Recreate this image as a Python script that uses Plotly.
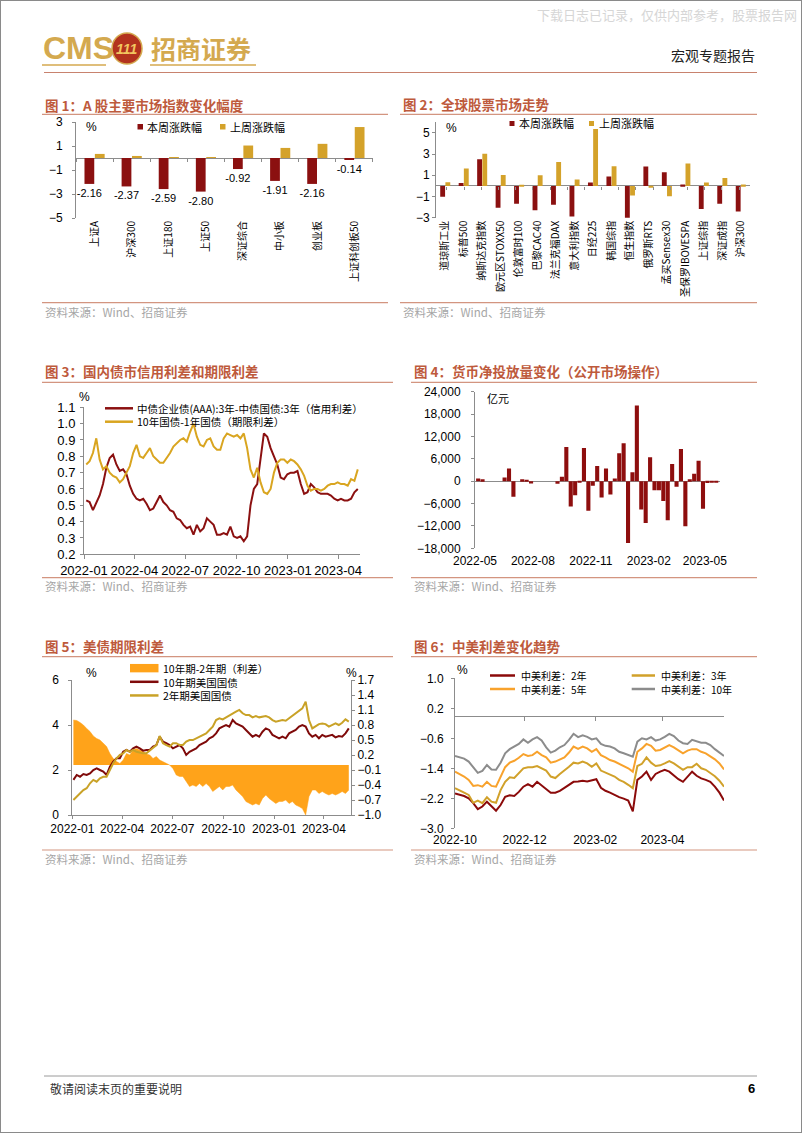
import plotly.graph_objects as go
import pandas as pd

# ---------------- data ----------------
c1_cats = ['上证A', '沪深300', '上证180', '上证50', '深证综合', '中小板', '创业板', '上证科创板50']
c1_this = [-2.16, -2.37, -2.59, -2.80, -0.92, -1.91, -2.16, -0.14]
c1_last = [0.34, 0.17, 0.02, 0.05, 1.04, 0.84, 1.18, 2.58]

c2_cats = ['道琼斯工业', '标普500', '纳斯达克指数', '欧元区STOXX50', '伦敦富时100', '巴黎CAC40',
           '法兰克福DAX', '意大利指数', '日经225', '韩国综指', '恒生指数', '俄罗斯RTS',
           '孟买Sensex30', '圣保罗IBOVESPA', '上证综指', '深证成指', '沪深300']
c2_this = [-1.03, 0.28, 2.50, -2.07, -1.69, -2.30, -1.79, -2.88, 0.31, 0.88, -3.10, 1.82,
           1.29, 0.12, -2.19, -1.69, -2.41]
c2_last = [0.34, 1.63, 3.04, 1.03, 0.02, 1.00, 2.26, 0.60, 5.36, 1.85, -0.90, -0.15,
           -0.97, 2.10, 0.31, 0.75, 0.13]

c3_dates = pd.date_range('2022-01-05', periods=82, freq='6D')
c3_credit = [0.53, 0.52, 0.47, 0.52, 0.56, 0.63, 0.73, 0.79, 0.81, 0.75,
             0.71, 0.72, 0.69, 0.62, 0.57, 0.54, 0.53, 0.54, 0.51, 0.47,
             0.48, 0.52, 0.56, 0.52, 0.50, 0.47, 0.46, 0.42, 0.41, 0.38,
             0.36, 0.37, 0.32, 0.38, 0.34, 0.36, 0.42, 0.40, 0.38, 0.32,
             0.32, 0.33, 0.32, 0.37, 0.31, 0.30, 0.31, 0.28, 0.31,
             0.50, 0.60, 0.63, 0.80, 0.94, 0.92, 0.85, 0.80, 0.75, 0.67,
             0.66, 0.69, 0.70, 0.70, 0.71, 0.63, 0.57, 0.58, 0.63, 0.61,
             0.58, 0.57, 0.57, 0.57, 0.56, 0.54, 0.53, 0.54, 0.53, 0.53,
             0.54, 0.58, 0.60]
c3_term = [0.75, 0.77, 0.82, 0.91, 0.78, 0.72, 0.74, 0.70, 0.68, 0.67,
           0.64, 0.66, 0.70, 0.74, 0.82, 0.87, 0.80, 0.79, 0.82, 0.85,
           0.80, 0.78, 0.76, 0.76, 0.79, 0.82, 0.86, 0.88, 0.90, 0.91,
           0.89, 0.95, 1.00, 0.92, 0.87, 0.86, 0.90, 0.91, 0.86, 0.84,
           0.84, 0.91, 0.94, 0.93, 0.92, 0.93, 0.91, 0.94, 0.85, 0.72,
           0.67, 0.73, 0.64, 0.58, 0.57, 0.60, 0.70, 0.76, 0.78, 0.78,
           0.76, 0.78, 0.77, 0.75, 0.72, 0.68, 0.62, 0.59, 0.60, 0.60,
           0.59, 0.60, 0.62, 0.63, 0.63, 0.64, 0.63, 0.63, 0.62, 0.66,
           0.65, 0.72]

c4_dates = pd.date_range('2022-05-06', periods=55, freq='7D')
c4_net = [700, 500, 0, 0, 0, 0, 1000, 3400, -4200, 0,
          500, 300, -600, 0, 0, 0, 0, 0, -700, 1200,
          9200, -6800, -3800, -300, 8900, -7900, -1200, 4100, -4400, 3400,
          -3600, 700, 7500, 10200, -16600, 2400, 20300, -7600, -11200, 6400,
          -2400, -2400, -5300, -10500, 4600, -1500, 8600, -12100, 500, 2000,
          5500, -7400, -500, -300, -300]

c5_dates = pd.date_range('2022-01-03', periods=84, freq='6D')
c5_us10y = [1.56, 1.78, 1.70, 1.82, 1.78, 1.85, 2.00, 2.07, 2.00, 1.93,
            1.78, 2.15, 2.37, 2.52, 2.52, 2.81, 2.89, 2.81, 2.96, 3.04,
            2.96, 2.86, 2.89, 2.89, 3.04, 3.11, 3.48, 3.26, 3.19, 3.11,
            2.96, 3.04, 3.11, 2.96, 2.67, 2.81, 2.89, 2.96, 3.11, 3.19,
            3.26, 3.41, 3.48, 3.63, 3.85, 3.93, 4.00, 3.93, 4.22, 4.07,
            4.00, 3.93, 3.78, 3.63, 3.48, 3.56, 3.48, 3.70, 3.85, 3.78,
            3.56, 3.48, 3.41, 3.48, 3.41, 3.63, 3.70, 3.78, 3.93, 4.00,
            3.93, 3.63, 3.48, 3.56, 3.41, 3.56, 3.48, 3.51, 3.56, 3.45,
            3.51, 3.48, 3.63, 3.85]
c5_us2y = [0.67, 0.81, 0.96, 1.11, 1.19, 1.41, 1.56, 1.48, 1.63, 1.70,
           1.70, 2.00, 2.30, 2.52, 2.67, 2.74, 2.89, 2.81, 2.89, 2.81,
           2.77, 2.74, 2.74, 2.86, 2.96, 3.11, 3.51, 3.19, 3.11, 3.04,
           3.19, 3.19, 3.11, 3.11, 3.26, 3.33, 3.33, 3.41, 3.48, 3.56,
           3.63, 3.78, 3.93, 4.22, 4.30, 4.25, 4.34, 4.44, 4.52, 4.59,
           4.67, 4.52, 4.44, 4.44, 4.34, 4.40, 4.34, 4.37, 4.40, 4.34,
           4.22, 4.15, 4.19, 4.22, 4.19, 4.30, 4.44, 4.55, 4.64, 4.74,
           5.04, 4.22, 3.85, 3.93, 4.04, 4.07, 4.04, 3.93, 4.00, 4.07,
           4.00, 4.10, 4.25, 4.15]
c5_spread = [0.90, 0.89, 0.85, 0.80, 0.73, 0.67, 0.58, 0.53, 0.50, 0.43,
             0.37, 0.23, 0.13, 0.07, 0.03, 0.10, 0.23, 0.20, 0.30, 0.33,
             0.30, 0.27, 0.22, 0.20, 0.13, 0.17, 0.10, 0.07, 0.03, 0.00,
             -0.07, -0.20, -0.23, -0.23, -0.33, -0.43, -0.40, -0.43, -0.37, -0.43,
             -0.37, -0.43, -0.53, -0.47, -0.43, -0.50, -0.43, -0.43, -0.40, -0.50,
             -0.57, -0.63, -0.73, -0.77, -0.80, -0.77, -0.80, -0.67, -0.60, -0.67,
             -0.73, -0.77, -0.73, -0.73, -0.70, -0.77, -0.73, -0.80, -0.83, -0.87,
             -1.00, -0.63, -0.50, -0.50, -0.57, -0.53, -0.57, -0.60, -0.57, -0.60,
             -0.57, -0.53, -0.57, -0.50]

c6_dates = pd.date_range('2022-10-01', periods=60, freq='4D')
c6_2y = [-2.07, -2.10, -2.14, -2.20, -2.33, -2.49, -2.42, -2.29, -2.42, -2.53,
         -2.38, -2.16, -2.12, -2.14, -2.03, -1.89, -1.82, -1.89, -1.76, -1.85,
         -1.94, -2.05, -2.05, -2.00, -1.92, -1.84, -1.76, -1.75, -1.73, -1.75,
         -1.71, -1.69, -1.92, -2.00, -2.05, -2.12, -2.17, -2.21, -2.26, -2.55,
         -1.71, -1.62, -1.49, -1.71, -1.55, -1.49, -1.44, -1.49, -1.60, -1.69,
         -1.76, -1.62, -1.49, -1.60, -1.67, -1.71, -1.76, -1.89, -2.05, -2.26]
c6_3y = [-1.93, -2.00, -2.05, -2.11, -2.32, -2.26, -2.33, -2.17, -2.29, -2.32,
         -1.98, -1.76, -1.64, -1.66, -1.52, -1.40, -1.37, -1.37, -1.34, -1.41,
         -1.46, -1.62, -1.66, -1.55, -1.46, -1.36, -1.25, -1.27, -1.22, -1.27,
         -1.36, -1.27, -1.46, -1.52, -1.58, -1.62, -1.71, -1.76, -1.84, -1.93,
         -1.34, -1.28, -1.11, -1.25, -1.34, -1.32, -1.27, -1.21, -1.27, -1.36,
         -1.44, -1.37, -1.37, -1.28, -1.40, -1.44, -1.52, -1.61, -1.73, -1.89]
c6_5y = [-1.49, -1.55, -1.62, -1.71, -1.87, -1.85, -1.89, -1.76, -1.87, -1.89,
         -1.62, -1.37, -1.25, -1.20, -1.12, -1.02, -1.07, -1.05, -0.96, -1.05,
         -1.11, -1.25, -1.22, -1.16, -1.11, -0.98, -0.82, -0.88, -0.82, -0.87,
         -0.96, -0.89, -1.05, -1.11, -1.18, -1.22, -1.28, -1.36, -1.40, -1.49,
         -0.96, -0.87, -0.75, -0.80, -0.93, -0.91, -0.84, -0.78, -0.84, -0.93,
         -1.00, -0.93, -0.89, -0.89, -0.96, -1.00, -1.07, -1.16, -1.27, -1.43]
c6_10y = [-1.07, -1.11, -1.14, -1.22, -1.36, -1.52, -1.47, -1.31, -1.43, -1.44,
          -1.25, -1.00, -0.89, -0.82, -0.75, -0.63, -0.72, -0.63, -0.57, -0.66,
          -0.84, -0.98, -0.93, -0.84, -0.78, -0.64, -0.48, -0.57, -0.52, -0.56,
          -0.63, -0.60, -0.75, -0.80, -0.82, -0.87, -0.96, -1.00, -1.04, -1.09,
          -0.69, -0.60, -0.63, -0.57, -0.66, -0.63, -0.56, -0.48, -0.54, -0.66,
          -0.73, -0.75, -0.64, -0.69, -0.72, -0.72, -0.78, -0.89, -0.98, -1.07]

# ---------------- style ----------------
W, H = 802, 1133
def px(x): return x / W
def py(y): return 1 - y / H

RED = '#8B1010'
GOLD = '#D4A22A'
ORANGE = '#FFA31A'
AX = '#8C8C8C'
NUM = 'Liberation Sans, Arial, sans-serif'
CJK = 'Noto Sans CJK SC, Liberation Sans, sans-serif'
TITLE_C = '#BE5A3C'
RULE_C = '#D39580'
LOGO_C = '#D4A94F'

# chart boxes (page pixels): left, right, bottom, top, ymin, ymax
C1 = (76, 373, 218, 122, -5, 3)
C2 = (436, 750, 217.7, 121.7, -3, 6.05)

def zero_pos(box):
    l, r, b, t, lo, hi = box
    return py(b) + (0 - lo) / (hi - lo) * (py(t) - py(b))

fig = go.Figure()

# chart 1
fig.add_trace(go.Bar(x=c1_cats, y=c1_this, marker_color=RED, marker_line_width=0, xaxis='x', yaxis='y',
                     text=[f'{v:.2f}' for v in c1_this], textposition='outside', textangle=0,
                     textfont=dict(family=NUM, size=11, color='#000'), cliponaxis=False,
                     constraintext='none', showlegend=False, hoverinfo='skip'))
fig.add_trace(go.Bar(x=c1_cats, y=c1_last, marker_color=GOLD, marker_line_width=0, xaxis='x', yaxis='y',
                     showlegend=False, hoverinfo='skip'))
fig.add_trace(go.Scatter(x=c1_cats, y=[0] * len(c1_cats), mode='markers', marker=dict(opacity=0),
                         xaxis='x8', yaxis='y', showlegend=False, hoverinfo='skip'))
# chart 2
fig.add_trace(go.Bar(x=c2_cats, y=c2_this, marker_color=RED, marker_line_width=0, xaxis='x2', yaxis='y2',
                     showlegend=False, hoverinfo='skip'))
fig.add_trace(go.Bar(x=c2_cats, y=c2_last, marker_color=GOLD, marker_line_width=0, xaxis='x2', yaxis='y2',
                     showlegend=False, hoverinfo='skip'))
fig.add_trace(go.Scatter(x=c2_cats, y=[0] * len(c2_cats), mode='markers', marker=dict(opacity=0),
                         xaxis='x9', yaxis='y2', showlegend=False, hoverinfo='skip'))
# chart 3
fig.add_trace(go.Scatter(x=c3_dates, y=c3_credit, mode='lines', line=dict(color=RED, width=2),
                         xaxis='x3', yaxis='y3', showlegend=False, hoverinfo='skip'))
fig.add_trace(go.Scatter(x=c3_dates, y=c3_term, mode='lines', line=dict(color='#D9A520', width=2),
                         xaxis='x3', yaxis='y3', showlegend=False, hoverinfo='skip'))
# chart 4
fig.add_trace(go.Bar(x=c4_dates, y=c4_net, marker_color='#8E0E0E', marker_line_width=0,
                     width=6.5 * 86400000, xaxis='x4', yaxis='y4', showlegend=False, hoverinfo='skip'))
# chart 5
fig.add_trace(go.Scatter(x=c5_dates, y=c5_spread, mode='lines', fill='tozeroy', fillcolor=ORANGE,
                         line=dict(color=ORANGE, width=0.5), xaxis='x5', yaxis='y5',
                         showlegend=False, hoverinfo='skip'))
fig.add_trace(go.Scatter(x=c5_dates, y=c5_us10y, mode='lines', line=dict(color='#7F0A0A', width=2),
                         xaxis='x5', yaxis='y6', showlegend=False, hoverinfo='skip'))
fig.add_trace(go.Scatter(x=c5_dates, y=c5_us2y, mode='lines', line=dict(color='#C9A227', width=2),
                         xaxis='x5', yaxis='y6', showlegend=False, hoverinfo='skip'))
# chart 6
c6_colors = ['#8B0A0A', '#D1A12A', '#F8A22C', '#8C8C8C']
for ser, col in zip([c6_2y, c6_3y, c6_5y, c6_10y], c6_colors):
    fig.add_trace(go.Scatter(x=c6_dates, y=ser, mode='lines', line=dict(color=col, width=2),
                             xaxis='x6', yaxis='y7', showlegend=False, hoverinfo='skip'))
fig.add_trace(go.Scatter(x=[c6_dates[0]], y=[0], mode='markers', marker=dict(opacity=0),
                         xaxis='x7', yaxis='y7', showlegend=False, hoverinfo='skip'))

num_tick = dict(family=NUM, size=12, color='#000')

def yax(domain, rng, vals, **kw):
    d = dict(domain=domain, range=rng, tickvals=vals, showline=True, linecolor=AX, linewidth=1,
             ticks='outside', ticklen=3, tickcolor=AX, showgrid=False, zeroline=False,
             tickfont=num_tick, fixedrange=True, automargin=False)
    d.update(kw)
    return d

def xax(**kw):
    d = dict(showgrid=False, zeroline=False, fixedrange=True, automargin=False, tickangle=0)
    d.update(kw)
    return d

date_ticks3 = ['2022-01-01', '2022-04-01', '2022-07-01', '2022-10-01', '2023-01-01', '2023-04-01']
lbl3 = [d[:7] for d in date_ticks3]
date_ticks4 = ['2022-05-01', '2022-08-01', '2022-11-01', '2023-02-01', '2023-05-01']
lbl4 = [d[:7] for d in date_ticks4]
date_ticks6 = ['2022-10-01', '2022-12-01', '2023-02-01', '2023-04-01']
lbl6 = [d[:7] for d in date_ticks6]

layout = dict(
    template='none',
    width=W, height=H, autosize=False, margin=dict(l=0, r=0, t=0, b=0, pad=0),
    paper_bgcolor='white', plot_bgcolor='rgba(0,0,0,0)', barmode='group',
    bargap=0.44, bargroupgap=0.06, showlegend=False, hovermode=False,
    xaxis=xax(domain=[px(C1[0]), px(C1[1])], anchor='y', type='category', tickangle=-90,
              tickfont=dict(family=CJK, size=10, color='#000'), showline=False, ticks=''),
    xaxis8=xax(overlaying='x', anchor='free', position=zero_pos(C1), type='category',
               showticklabels=False, showline=False, ticks='outside', ticklen=3,
               tickcolor=AX, tickson='boundaries'),
    yaxis=yax([py(C1[2]), py(C1[3])], [C1[4], C1[5]], [-5, -3, -1, 1, 3], zeroline=True,
              zerolinecolor=AX, zerolinewidth=1, anchor='x', ticklabelstandoff=7),
    xaxis2=xax(domain=[px(C2[0]), px(C2[1])], anchor='y2', type='category', tickangle=-90,
               tickfont=dict(family=CJK, size=10, color='#000'), showline=False, ticks=''),
    xaxis9=xax(overlaying='x2', anchor='free', position=zero_pos(C2), type='category',
               showticklabels=False, showline=False, ticks='outside', ticklen=3,
               tickcolor=AX, tickson='boundaries'),
    yaxis2=yax([py(C2[2]), py(C2[3])], [C2[4], C2[5]], [-3, -1, 1, 3, 5], zeroline=True,
               zerolinecolor=AX, zerolinewidth=1, anchor='x2'),
    xaxis3=xax(domain=[px(84), px(360)], anchor='y3', type='date',
               range=['2022-01-01', '2023-05-10'], tickvals=date_ticks3, ticktext=lbl3,
               showline=True, linecolor=AX, ticks='outside', ticklen=4, tickcolor=AX,
               tickfont=dict(family=NUM, size=13, color='#000')),
    yaxis3=yax([py(554.3), py(407.3)], [0.2, 1.1],
               [0.2, 0.3, 0.4, 0.5, 0.6, 0.7, 0.8, 0.9, 1.0, 1.1], tickformat='.1f',
               anchor='x3', ticklabelstandoff=2, tickfont=dict(family=NUM, size=13, color='#000')),
    xaxis4=xax(domain=[px(475), px(720)], anchor='y4', type='date',
               range=['2022-05-01', '2023-05-25'], tickvals=date_ticks4, ticktext=lbl4,
               showline=False, ticks='', tickfont=num_tick, ticklabelstandoff=4),
    yaxis4=yax([py(548.3), py(391.7)], [-18000, 24000],
               [-18000, -12000, -6000, 0, 6000, 12000, 18000, 24000], tickformat=',d',
               zeroline=True, zerolinecolor=AX, zerolinewidth=1, anchor='x4',
               ticklabelstandoff=8),
    xaxis5=xax(domain=[px(72.3), px(351)], anchor='y5', type='date',
               range=['2022-01-01', '2023-05-20'], tickvals=date_ticks3, ticktext=lbl3,
               showline=True, linecolor=AX, ticks='outside', ticklen=3, tickcolor=AX,
               tickfont=num_tick),
    yaxis5=yax([py(815), py(680)], [-1.0, 1.7],
               [-1.0, -0.7, -0.4, -0.1, 0.2, 0.5, 0.8, 1.1, 1.4, 1.7], tickformat='.1f',
               side='right', anchor='x5'),
    yaxis6=yax([py(815), py(680)], [0, 6], [0, 2, 4, 6], side='left', anchor='x5',
               overlaying='y5', ticklabelstandoff=7),
    xaxis6=xax(domain=[px(455), px(724)], anchor='y7', type='date',
               range=['2022-10-01', '2023-05-25'], tickvals=date_ticks6, ticktext=lbl6,
               showline=False, ticks='', tickfont=num_tick, ticklabelstandoff=3),
    xaxis7=xax(overlaying='x6', anchor='free', position=py(716), type='date',
               range=['2022-10-01', '2023-05-25'], tickvals=date_ticks6[1:],
               showticklabels=False, showline=True, linecolor=AX, ticks='outside',
               ticklen=4, tickcolor=AX),
    yaxis7=yax([py(828.3), py(678.3)], [-3.0, 1.0], [-3.0, -2.2, -1.4, -0.6, 0.2, 1.0],
               tickformat='.1f', anchor='x6', ticklabelstandoff=5),
)
fig.update_layout(**layout)

shapes = []
annos = []

def hline(x0, x1, y, color, width=1):
    shapes.append(dict(type='line', xref='paper', yref='paper', x0=px(x0), x1=px(x1),
                       y0=py(y), y1=py(y), line=dict(color=color, width=width)))

def rect(x0, y0, x1, y1, color):
    shapes.append(dict(type='rect', xref='paper', yref='paper', x0=px(x0), x1=px(x1),
                       y0=py(y1), y1=py(y0), fillcolor=color, line=dict(width=0)))

def text(x, y, s, size=11, color='#000', family=CJK, xanchor='left', weight='normal'):
    annos.append(dict(xref='paper', yref='paper', x=px(x), y=py(y), text=s, showarrow=False,
                      xanchor=xanchor, yanchor='middle', align='left',
                      font=dict(family=family, size=size, color=color, weight=weight)))

# page border
shapes.append(dict(type='rect', xref='paper', yref='paper', x0=0, x1=1, y0=0, y1=1,
                   line=dict(color='#8A8A8A', width=2)))

# header
text(799, 15, '下载日志已记录，仅供内部参考，股票报告网', 13, '#D6D6D6', xanchor='right')
text(41, 48, 'CMS', 32, LOGO_C, 'Liberation Sans Narrow, Liberation Sans, sans-serif', weight='bold')
shapes.append(dict(type='circle', xref='paper', yref='paper', x0=px(112), x1=px(142),
                   y0=py(64), y1=py(33), fillcolor='#B3331E', line=dict(color=LOGO_C, width=1.5)))
text(127, 49, '<i>111</i>', 14, '#F2C760', NUM, xanchor='center', weight='bold')
text(149, 48, '招商证券', 25, LOGO_C, weight='bold')
hline(42, 106, 65, LOGO_C, 1.5)
hline(150, 256, 65, LOGO_C, 1.5)
text(757, 55, '宏观专题报告', 14, '#222', xanchor='right')
hline(44, 757, 72.5, '#C8826E', 1)

# footer
hline(44, 757, 1076, '#9A9A9A', 1)
text(48, 1088, '敬请阅读末页的重要说明', 12, '#333')
text(757, 1088, '6', 13, '#000', NUM, xanchor='right', weight='bold')

# titles / rules / sources
blocks = [
    (42, 388, 105, 114.3, 302.7, 311.7, '图 1：A 股主要市场指数变化幅度'),
    (400, 757, 104, 114.3, 302.7, 311.7, '图 2：全球股票市场走势'),
    (42, 393, 371, 382.3, 577.7, 586.0, '图 3：国内债市信用利差和期限利差'),
    (411, 757, 371, 382.3, 577.7, 586.0, '图 4：货币净投放量变化（公开市场操作）'),
    (42, 393, 646, 656.7, 850.0, 859.0, '图 5：美债期限利差'),
    (411, 757, 646, 656.7, 850.0, 859.0, '图 6：中美利差变化趋势'),
]
for x0, x1, ty, ry, sy, sty, title in blocks:
    text(x0 + 1, ty, title, 13.5, TITLE_C, weight='bold')
    hline(x0, x1, ry, RULE_C, 1.2)
    hline(x0, x1, sy, RULE_C, 1.2)
    text(x0 + 1, sty, '资料来源：Wind、招商证券', 11.5, '#A6A6A6')

# chart 1 legend
text(84, 127, '%', 12, '#000', NUM)
rect(137.5, 124, 143, 129.5, RED)
text(145, 127, '本周涨跌幅', 11)
rect(220, 124, 225.5, 129.5, GOLD)
text(228, 127, '上周涨跌幅', 11)

# chart 2 legend
text(444, 128, '%', 12, '#000', NUM)
rect(509.5, 121, 514.5, 126, RED)
text(517, 123.5, '本周涨跌幅', 11)
rect(589, 121, 594, 126, GOLD)
text(596.5, 123.5, '上周涨跌幅', 11)

# chart 3 legend
text(77, 397, '%', 12, '#000', NUM)
hline(105, 133, 408.3, RED, 2.5)
text(135, 408.3, '中债企业债(AAA):3年-中债国债:3年（信用利差）', 10.5)
hline(105, 133, 421.7, '#D9A520', 2.5)
text(135, 421.7, '10年国债-1年国债（期限利差）', 10.5)

# chart 4 label
text(485, 398.3, '亿元', 11)

# chart 5 legend (one multi-line text block, 1.3em line spacing)
text(84, 673, '%', 12, '#000', NUM)
text(344, 673, '%', 12, '#000', NUM)
L5 = 10.5 * 1.3
mid5 = 681.8
rect(130, mid5 - L5 - 4.2, 158.5, mid5 - L5 + 4.2, ORANGE)
hline(130, 158.5, mid5, '#7F0A0A', 2.5)
hline(130, 158.5, mid5 + L5, '#C9A227', 2.5)
text(160.5, mid5, '10年期-2年期（利差）<br>10年期美国国债<br>2年期美国国债', 10.5)

# chart 6 legend
text(455, 669.5, '%', 12, '#000', NUM)
c6_names = ['中美利差：2年', '中美利差：3年', '中美利差：5年', '中美利差：10年']
c6_pos = [(490, 515, 519, 675.5), (631.7, 655, 658.5, 675.5), (490, 515, 519, 689), (631.7, 655, 658.5, 689)]
for name, col, (lx0, lx1, tx, yy) in zip(c6_names, c6_colors, c6_pos):
    hline(lx0, lx1, yy, col, 2.5)
    text(tx, yy, name, 10)

fig.update_layout(shapes=shapes, annotations=annos)
fig.write_html('out.html', config={'displayModeBar': False},
               post_script="document.body.style.margin='0';document.body.style.overflow='hidden';")
